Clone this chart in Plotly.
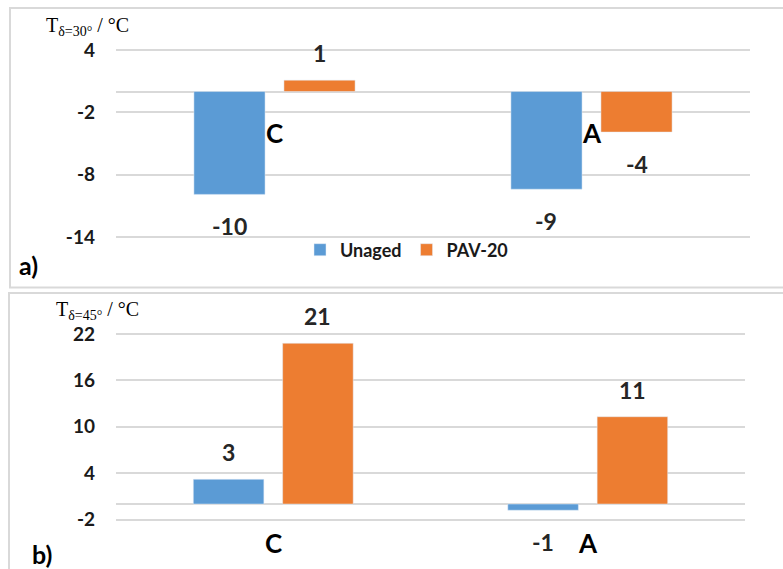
import plotly.graph_objects as go

# Binder types and measured temperatures (°C)
categories = ["C", "A"]
series_names = ["Unaged", "PAV-20"]
t30_unaged = [-9.9, -9.4]
t30_pav20 = [1.1, -3.9]
t45_unaged = [3.2, -0.8]
t45_pav20 = [20.8, 11.3]
t30_ticks = [4, -2, -8, -14]
t45_ticks = [22, 16, 10, 4, -2]

W, H = 783, 569
BLUE, ORANGE = "#5b9bd5", "#ed7d31"
GRID = "#d9d9d9"
SANS = "Lato"
SERIF = "Liberation Serif"
BARGAP, GROUPGAP = 0.432, 0.21
PAD = 0.2  # small range padding so the outermost gridlines are drawn


def px_x(p):
    return p / W


def px_y(p):
    return 1 - p / H


def y_domain(top_px, bottom_px, lo, hi):
    """Vertical domain whose end ticks sit at the given pixel rows, padded."""
    per_unit = (bottom_px - top_px) / (hi - lo)
    return [px_y(bottom_px + PAD * per_unit), px_y(top_px - PAD * per_unit)]


fig = go.Figure()

# Upper panel: T at phase angle 30°
fig.add_trace(go.Bar(x=categories, y=t30_unaged, name=series_names[0],
                     marker_color=BLUE, xaxis="x", yaxis="y"))
fig.add_trace(go.Bar(x=categories, y=t30_pav20, name=series_names[1],
                     marker_color=ORANGE, xaxis="x", yaxis="y"))
# Lower panel: T at phase angle 45°
fig.add_trace(go.Bar(x=categories, y=t45_unaged, name=series_names[0],
                     marker_color=BLUE, xaxis="x2", yaxis="y2", showlegend=False))
fig.add_trace(go.Bar(x=categories, y=t45_pav20, name=series_names[1],
                     marker_color=ORANGE, xaxis="x2", yaxis="y2", showlegend=False))

tickfont = dict(family=SANS, size=19, color="#1a1a1a", weight="bold")
yaxis_common = dict(showgrid=True, gridcolor=GRID, gridwidth=1.5,
                    zeroline=True, zerolinecolor=GRID, zerolinewidth=1.5,
                    showline=False, ticks="", tickfont=tickfont,
                    ticklabelstandoff=20, fixedrange=True, automargin=False)
xaxis_common = dict(range=[-0.5, 1.5], showticklabels=False, showgrid=False,
                    zeroline=False, showline=False, ticks="", fixedrange=True,
                    automargin=False)

fig.update_layout(
    width=W, height=H,
    margin=dict(l=0, r=0, t=0, b=0, autoexpand=False),
    paper_bgcolor="white", plot_bgcolor="white",
    barmode="group", bargap=BARGAP, bargroupgap=GROUPGAP,
    xaxis=dict(domain=[px_x(116), px_x(750)], anchor="y", **xaxis_common),
    yaxis=dict(domain=y_domain(50, 237, -14, 4), anchor="x",
               range=[-14 - PAD, 4 + PAD],
               tickvals=t30_ticks, ticktext=[str(t) for t in t30_ticks],
               **yaxis_common),
    xaxis2=dict(domain=[px_x(116), px_x(745)], anchor="y2", **xaxis_common),
    yaxis2=dict(domain=y_domain(334, 519.5, -2, 22), anchor="x2",
                range=[-2 - PAD, 22 + PAD],
                tickvals=t45_ticks, ticktext=[str(t) for t in t45_ticks],
                **yaxis_common),
    legend=dict(orientation="h", x=px_x(300), xanchor="left",
                y=px_y(250), yanchor="middle",
                font=dict(family=SANS, size=18, color="#1a1a1a", weight="bold"),
                bgcolor="rgba(0,0,0,0)", itemwidth=30, tracegroupgap=0),
    showlegend=True,
)

# Panel frames
frame = dict(type="rect", xref="paper", yref="paper",
             line=dict(color=GRID, width=2), fillcolor="rgba(0,0,0,0)", layer="below")
fig.add_shape(x0=px_x(10), x1=px_x(800), y0=px_y(287.5), y1=px_y(8), **frame)
fig.add_shape(x0=px_x(9), x1=px_x(800), y0=px_y(620), y1=px_y(293), **frame)

# Value labels drawn from the same values as the bars
offset = (1 - BARGAP) / 4
label_font = dict(family=SANS, size=23, color="#262626", weight="bold")
panels = [("x", "y", t30_unaged, t30_pav20), ("x2", "y2", t45_unaged, t45_pav20)]
for xr, yr, unaged, pav in panels:
    for i in range(len(categories)):
        for vals, dx in ((unaged, -offset), (pav, offset)):
            v = vals[i]
            fig.add_annotation(x=i + dx, y=v, xref=xr, yref=yr,
                               text=f"{round(v)}", showarrow=False,
                               yanchor="middle", yshift=27 if v >= 0 else -32,
                               font=label_font)

# Category names
cat_font = dict(family=SANS, size=26, color="#000000", weight="bold")
for xr, ypix in (("x", 133), ("x2", 543)):
    for i, c in enumerate(categories):
        fig.add_annotation(x=i, y=px_y(ypix), xref=xr, yref="paper", text=c,
                           showarrow=False, yanchor="middle", font=cat_font)

# Axis titles
title_font = dict(family=SERIF, size=20, color="#000000")
fig.add_annotation(x=px_x(44), y=px_y(27), xref="paper", yref="paper",
                   text="T<sub>δ=30°</sub> / °C", showarrow=False,
                   xanchor="left", yanchor="middle", font=title_font)
fig.add_annotation(x=px_x(54), y=px_y(310), xref="paper", yref="paper",
                   text="T<sub>δ=45°</sub> / °C", showarrow=False,
                   xanchor="left", yanchor="middle", font=title_font)

# Panel letters
letter_font = dict(family=SANS, size=25, color="#000000", weight="bold")
fig.add_annotation(x=px_x(17), y=px_y(265), xref="paper", yref="paper", text="a)",
                   showarrow=False, xanchor="left", yanchor="middle", font=letter_font)
fig.add_annotation(x=px_x(30), y=px_y(554), xref="paper", yref="paper", text="b)",
                   showarrow=False, xanchor="left", yanchor="middle", font=letter_font)

fig.write_html("out.html")
